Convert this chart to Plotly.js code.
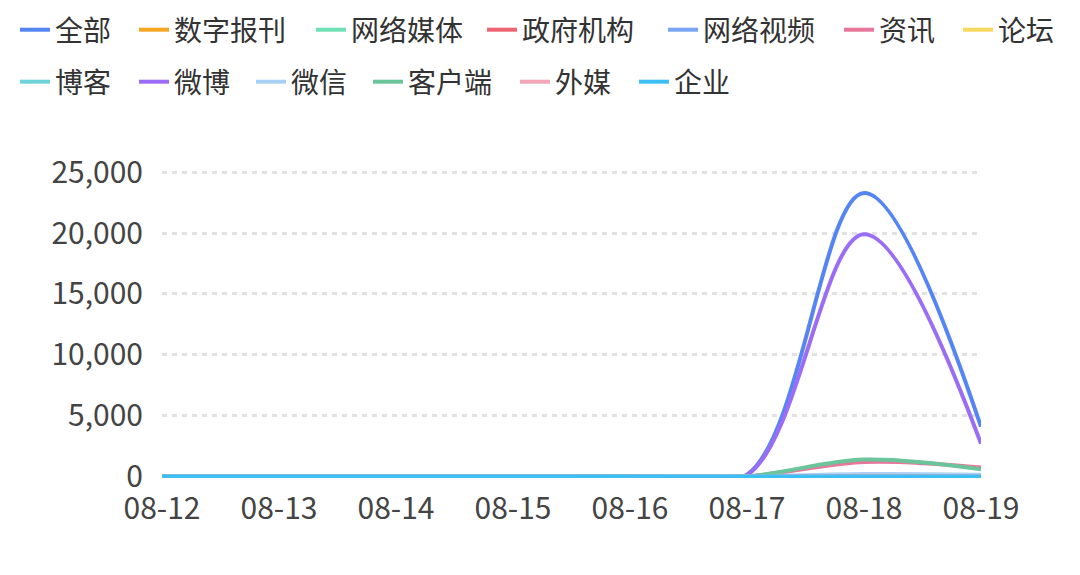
<!DOCTYPE html>
<html>
<head>
<meta charset="utf-8">
<script src="https://cdn.plot.ly/plotly-3.0.1.min.js"></script>
<style>
  html, body { margin: 0; padding: 0; background: #fff; }
  #chart { width: 1080px; height: 575px; }
</style>
</head>
<body>
<div id="chart"></div>
<script>
const dates = ['08-12', '08-13', '08-14', '08-15', '08-16', '08-17', '08-18', '08-19'];

const seriesNames = ['全部', '数字报刊', '网络媒体', '政府机构', '网络视频', '资讯', '论坛',
  '博客', '微博', '微信', '客户端', '外媒', '企业'];

const seriesColors = ['#5585f5', '#f5a623', '#6ee0b4', '#ee6470', '#78a6f5', '#e8759a', '#f6d860',
  '#6dd3d6', '#9b6cf5', '#a8d1f5', '#6cc49b', '#f3a6b8', '#3bbff5'];

// values
const allValues      = [0, 0, 0, 0, 30, 150, 23300, 4100];
const paperValues    = [0, 0, 0, 0, 0, 0, 10, 5];
const webMediaValues = [0, 0, 0, 0, 2, 5, 60, 30];
const govValues      = [0, 0, 0, 0, 0, 0, 5, 2];
const videoValues    = [0, 0, 0, 0, 0, 2, 40, 20];
const newsValues     = [0, 0, 0, 0, 4, 15, 1200, 750];
const forumValues    = [0, 0, 0, 0, 0, 2, 30, 15];
const blogValues     = [0, 0, 0, 0, 0, 0, 5, 2];
const weiboValues    = [0, 0, 0, 0, 20, 110, 19900, 2700];
const wechatValues   = [0, 0, 0, 0, 2, 10, 200, 150];
const clientValues   = [0, 0, 0, 0, 4, 15, 1400, 600];
const foreignValues  = [0, 0, 0, 0, 0, 2, 60, 30];
const companyValues  = [0, 0, 0, 0, 0, 0, 5, 2];

const seriesValues = [allValues, paperValues, webMediaValues, govValues, videoValues, newsValues,
  forumValues, blogValues, weiboValues, wechatValues, clientValues, foreignValues, companyValues];

const yTicks = [0, 5000, 10000, 15000, 20000, 25000];

const font = '"Noto Sans CJK SC", "Noto Sans", sans-serif';

// legend rows like the original: where each label's text starts (px) and its row
const legendTextX = [57, 176, 353, 524, 705, 881, 1000, 57, 176, 293, 410, 557, 676];
const legendRowY = [30, 82];

const W = 1080, H = 575;

const legendKey = i => (i === 0 ? 'legend' : 'legend' + (i + 1));

const traces = seriesNames.map((name, i) => ({
  type: 'scatter',
  mode: 'lines',
  name: name,
  legend: legendKey(i),
  x: dates,
  y: seriesValues[i],
  line: { color: seriesColors[i], width: 4, shape: 'spline', smoothing: 1 },
  hoverinfo: 'x+y+name'
}));

const layout = {
  width: W,
  height: H,
  margin: { l: 162, r: 99, t: 171, b: 97 },
  paper_bgcolor: '#fff',
  plot_bgcolor: '#fff',
  font: { family: font, size: 28, color: '#333' },
  showlegend: true,
  xaxis: {
    type: 'category',
    range: [0, dates.length - 1],
    showgrid: false,
    zeroline: false,
    showline: false,
    ticks: '',
    ticklabelstandoff: 10,
    tickfont: { family: font, size: 30, color: '#444' }
  },
  yaxis: {
    range: [-120, 25100],
    tickvals: yTicks,
    tickformat: ',d',
    showgrid: true,
    gridcolor: '#e2e2e2',
    gridwidth: 3,
    griddash: '5px,5px',
    zeroline: false,
    showline: false,
    ticks: '',
    ticklabelstandoff: 18,
    tickfont: { family: font, size: 30, color: '#444' }
  }
};

seriesNames.forEach((name, i) => {
  layout[legendKey(i)] = {
    orientation: 'h',
    xref: 'container', yref: 'container',
    x: (legendTextX[i] - 42) / W,
    y: 1 - legendRowY[i < 7 ? 0 : 1] / H,
    xanchor: 'left', yanchor: 'middle',
    bgcolor: 'rgba(0,0,0,0)',
    font: { family: font, size: 28, color: '#333' }
  };
});

Plotly.newPlot('chart', traces, layout, { displayModeBar: false, staticPlot: true });
</script>
</body>
</html>
